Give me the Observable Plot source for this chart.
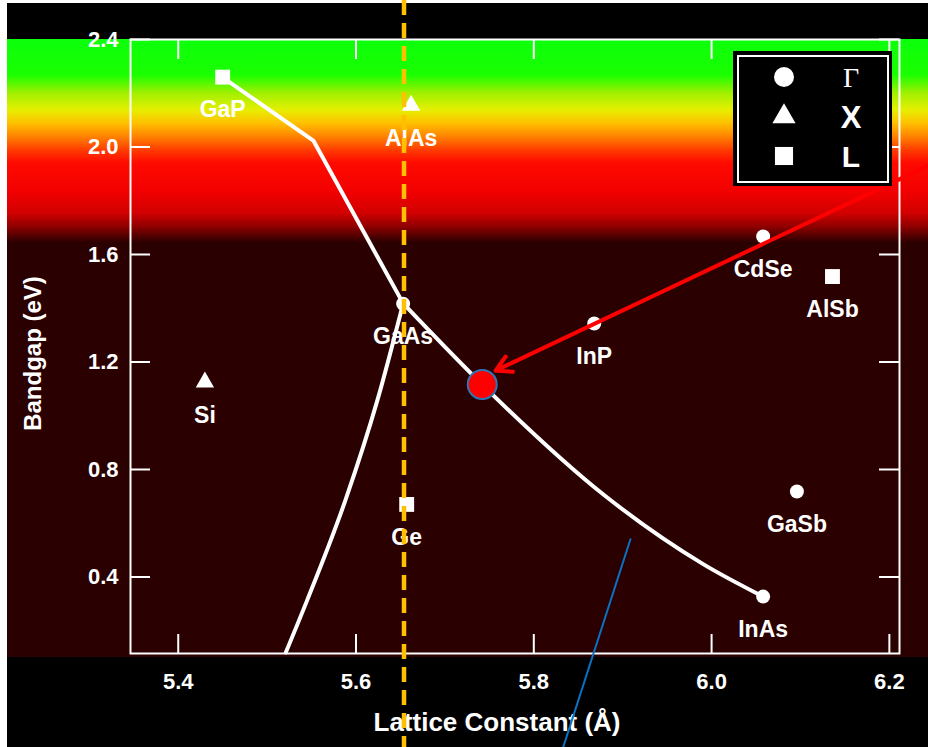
<!DOCTYPE html>
<html>
<head>
<meta charset="utf-8">
<script src="https://cdn.jsdelivr.net/npm/d3@7"></script>
<script src="https://cdn.jsdelivr.net/npm/@observablehq/plot@0.6"></script>
<style>
html, body { margin: 0; padding: 0; background: #ffffff; }
#wrap { position: relative; width: 928px; height: 747px; overflow: hidden; }
#legend { position: absolute; left: 733px; top: 51px; width: 159px; height: 135px; background: #000; }
</style>
</head>
<body>
<div id="wrap"></div>
<script>
// ---- data ----
const xTicks = [5.4, 5.6, 5.8, 6.0, 6.2];
const yTicks = [0.4, 0.8, 1.2, 1.6, 2.0, 2.4];

const names   = ["GaP", "AlAs", "GaAs", "Ge", "Si", "InP", "CdSe", "AlSb", "GaSb", "InAs"];
const lattice = [5.450, 5.662, 5.653, 5.657, 5.430, 5.868, 6.058, 6.136, 6.096, 6.058];
const bandgap = [2.26, 2.155, 1.417, 0.67, 1.125, 1.343, 1.667, 1.518, 0.718, 0.327];
const gapType = ["L", "X", "Γ", "L", "X", "Γ", "Γ", "L", "Γ", "Γ"];

const gapTypes   = ["Γ", "X", "L"];
const gapSymbols = ["circle", "triangle", "square"];
const symbolR    = [7, 6.8, 8.4];

// GaP -> GaAs alloy branch
const upperX = [5.450, 5.552, 5.653];
const upperY = [2.259, 2.024, 1.418];
// GaAs -> InAs alloy branch
const lowerX = [5.653, 5.742, 5.879, 5.991, 6.058];
const lowerY = [1.418, 1.116, 0.705, 0.447, 0.327];
// lower-left branch -> GaAs
const leftX = [5.521, 5.545, 5.588, 5.624, 5.653];
const leftY = [0.119, 0.313, 0.685, 1.057, 1.418];

const targetX = [5.742], targetY = [1.116];
const arrowFrom = [6.26, 1.956], arrowTo = [5.757, 1.168];
const blueFrom = [5.909, 0.543], blueTo = [5.833, -0.234];
const gaasLattice = [5.654];

// visible spectrum band (photon energy eV -> colour)
const spectrumE = [2.4, 2.266, 2.199, 2.136, 2.087, 2.035, 1.987, 1.939, 1.827, 1.753, 1.70, 1.663, 1.641, 0.10];
const spectrumC = ["#0cff0c", "#1aff00", "#a0f000", "#e6ef00", "#ffc000", "#ff8000", "#ff3c00", "#ff0a00", "#f00000", "#d20000", "#8c0000", "#4a0000", "#2a0000", "#2a0000"];

const xDomain = [5.3463, 6.2114];
const yDomain = [0.1153, 2.4];

// ---- build ----
const W = 928, H = 747, mL = 130, mR = 29, mT = 39, mB = 94;
const frameW = W - mL - mR, frameH = H - mT - mB;

const compounds = names.map((n, i) => ({name: n, x: lattice[i], y: bandgap[i], type: gapType[i]}));
const upper = upperX.map((x, i) => ({x, y: upperY[i]}));
const lower = lowerX.map((x, i) => ({x, y: lowerY[i]}));
const left = leftX.map((x, i) => ({x, y: leftY[i]}));

const white = "#ffffff";
const dotMarks = gapTypes.map((t, i) =>
  Plot.dot(compounds.filter(d => d.type === t), {x: "x", y: "y", symbol: () => gapSymbols[i], r: symbolR[i], fill: white})
);

const plot = Plot.plot({
  width: W, height: H,
  marginLeft: mL, marginRight: mR, marginTop: mT, marginBottom: mB,
  x: {domain: xDomain},
  y: {domain: yDomain},
  symbol: {type: "identity"},
  style: {background: "transparent", color: white, fontFamily: "'Liberation Sans', Arial, sans-serif", fontSize: "22px", fontWeight: "bold", overflow: "hidden"},
  marks: [
    Plot.frame({stroke: white, strokeWidth: 2}),
    Plot.ruleX(xTicks, {stroke: white, strokeWidth: 2, insetTop: frameH - 19}),
    Plot.ruleX(xTicks, {stroke: white, strokeWidth: 2, insetBottom: frameH - 20}),
    Plot.ruleY(yTicks, {stroke: white, strokeWidth: 2, insetRight: frameW - 20}),
    Plot.ruleY(yTicks, {stroke: white, strokeWidth: 2, insetLeft: frameW - 20}),
    Plot.axisX(xTicks, {tickSize: 0, tickPadding: 20, tickFormat: d3.format(".1f"), label: null, fontSize: 22}),
    Plot.axisY(yTicks, {tickSize: 0, tickPadding: 12, tickFormat: d3.format(".1f"), label: null, fontSize: 22}),
    Plot.text(["Lattice Constant (Å)"], {frameAnchor: "bottom", textAnchor: "middle", lineAnchor: "middle", dx: -18, dy: 69, fontSize: 26, fill: white}),
    Plot.text(["Bandgap (eV)"], {frameAnchor: "left", textAnchor: "middle", lineAnchor: "middle", rotate: -90, dx: -97, dy: 7, fontSize: 24, fill: white}),
    Plot.line(upper, {x: "x", y: "y", stroke: white, strokeWidth: 4, strokeLinejoin: "round"}),
    Plot.line(lower, {x: "x", y: "y", stroke: white, strokeWidth: 4, curve: "monotone-x"}),
    Plot.line(left, {x: "x", y: "y", stroke: white, strokeWidth: 4, curve: "monotone-x"}),
    ...dotMarks,
    Plot.text(compounds, {x: "x", y: "y", text: "name", dy: 33, fill: white, fontSize: 23}),
    Plot.dot(targetX.map((x, i) => ({x, y: targetY[i]})), {x: "x", y: "y", r: 14.5, fill: "#ff0000", stroke: "#2e75b6", strokeWidth: 2}),
    Plot.arrow([{x1: arrowFrom[0], y1: arrowFrom[1], x2: arrowTo[0], y2: arrowTo[1]}], {x1: "x1", y1: "y1", x2: "x2", y2: "y2", stroke: "#ff0000", strokeWidth: 4, headLength: 6.5, headAngle: 58}),
    Plot.link([{x1: blueFrom[0], y1: blueFrom[1], x2: blueTo[0], y2: blueTo[1]}], {x1: "x1", y1: "y1", x2: "x2", y2: "y2", stroke: "#0a72c4", strokeWidth: 2}),
    Plot.ruleX(gaasLattice, {stroke: "#ffc000", strokeWidth: 4.5, strokeDasharray: "15,8", insetTop: -mT, insetBottom: -mB})
  ]
});

// spectrum background positioned by the y scale
const ys = plot.scale("y");
const yPix = v => (ys.apply ? ys.apply(v) : mT + (yDomain[1] - v) / (yDomain[1] - yDomain[0]) * frameH);
const stops = ["#000 0px", `#000 ${yPix(spectrumE[0])}px`];
spectrumE.forEach((e, i) => stops.push(`${spectrumC[i]} ${yPix(e).toFixed(1)}px`));
const lastPix = yPix(spectrumE[spectrumE.length - 1]).toFixed(1);
stops.push(`#000 ${lastPix}px`, `#000 ${H}px`);
plot.style.background =
  "linear-gradient(to right, #fff 0px, #fff 7px, transparent 7px)," +
  "linear-gradient(to bottom, #fff 0px, #fff 3px, transparent 3px)," +
  `linear-gradient(to bottom, ${stops.join(", ")})`;
plot.style.display = "block";

const wrap = document.getElementById("wrap");
wrap.appendChild(plot);

// legend (symbol -> band-gap type)
const legend = document.createElement("div");
legend.id = "legend";
wrap.appendChild(legend);
const lsvg = d3.select(legend).append("svg").attr("width", 159).attr("height", 135);
lsvg.append("rect").attr("x", 5).attr("y", 5).attr("width", 150).attr("height", 126)
  .attr("fill", "none").attr("stroke", white).attr("stroke-width", 2);
const legendSizes = [10, 8.6, 10.2];
const legendFonts = ["'Liberation Serif', 'Times New Roman', serif", "'Liberation Sans', Arial, sans-serif", "'Liberation Sans', Arial, sans-serif"];
const legendFontSize = [28, 31, 30];
const legendWeight = ["normal", "bold", "bold"];
gapTypes.forEach((t, i) => {
  const cy = 26 + i * 39.5;
  const sym = d3.symbol().type({circle: d3.symbolCircle, triangle: d3.symbolTriangle, square: d3.symbolSquare}[gapSymbols[i]])
    .size(Math.PI * legendSizes[i] * legendSizes[i]);
  lsvg.append("path").attr("d", sym()).attr("transform", `translate(51,${cy})`).attr("fill", white);
  lsvg.append("text").attr("x", 118).attr("y", cy).attr("dy", "0.36em").attr("text-anchor", "middle")
    .attr("fill", white).attr("font-family", legendFonts[i]).attr("font-size", legendFontSize[i])
    .attr("font-weight", legendWeight[i]).text(t);
});
</script>
</body>
</html>
